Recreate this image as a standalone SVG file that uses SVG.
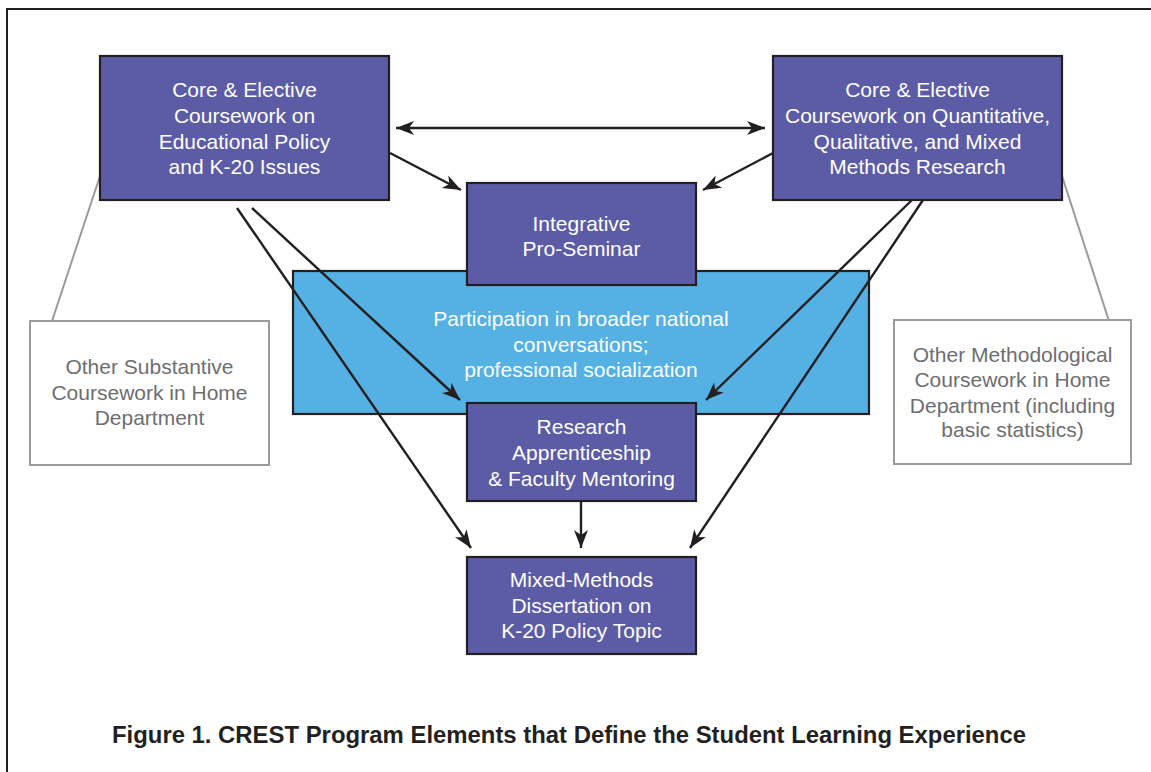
<svg xmlns="http://www.w3.org/2000/svg" width="1151" height="772" viewBox="0 0 1151 772">
<style>
.pb{fill:#5c5ca6;stroke:#231f20;stroke-width:2.2}
.bl{fill:#55b0e3;stroke:#231f20;stroke-width:2.2}
.gb{fill:#ffffff;stroke:#9b9b9d;stroke-width:2}
.wt{font-family:"Liberation Sans",Arial,sans-serif;font-size:21px;fill:#ffffff;text-anchor:middle}
.gt{font-family:"Liberation Sans",Arial,sans-serif;font-size:21px;fill:#6d6e71;text-anchor:middle}
.ar{stroke:#231f20;stroke-width:2.4;fill:none;marker-end:url(#ah)}
.gl{stroke:#9b9b9d;stroke-width:2;fill:none}
.cap{font-family:"Liberation Sans",Arial,sans-serif;font-size:23.5px;font-weight:bold;fill:#231f20;text-anchor:middle}
</style>
<defs>
<marker id="ah" markerUnits="userSpaceOnUse" viewBox="-20 -9 21 18" refX="0" refY="0" markerWidth="21" markerHeight="18" orient="auto-start-reverse">
<path d="M0,0 L-18,-7 L-13,0 L-18,7 Z" fill="#231f20"/>
</marker>
</defs>
<rect x="0" y="0" width="1151" height="772" fill="#ffffff"/>
<rect x="7" y="9" width="1200" height="800" fill="none" stroke="#231f20" stroke-width="2"/>

<g id="socialization">
<rect class="bl" x="293" y="271" width="576" height="143"/>
<text class="wt" x="581" y="326">Participation in broader national</text>
<text class="wt" x="581" y="351.5">conversations;</text>
<text class="wt" x="581" y="377">professional socialization</text>
</g>

<g id="connectors">
<line class="ar" x1="396" y1="128" x2="765" y2="128" style="marker-start:url(#ah)"/>
<line class="ar" x1="390" y1="153" x2="461" y2="190"/>
<line class="ar" x1="773" y1="153" x2="703" y2="190"/>
<line class="ar" x1="252" y1="208" x2="460" y2="400"/>
<line class="ar" x1="237" y1="208" x2="471" y2="548"/>
<line class="ar" x1="912" y1="200" x2="706" y2="400"/>
<line class="ar" x1="923" y1="200" x2="690" y2="548"/>
<line class="ar" x1="581" y1="501" x2="581" y2="548"/>
<line class="gl" x1="100" y1="176" x2="52" y2="321"/>
<line class="gl" x1="1062" y1="176" x2="1109" y2="321"/>
</g>

<g id="policy">
<rect class="pb" x="100" y="56" width="289" height="144"/>
<text class="wt" x="244.5" y="97">Core &amp; Elective</text>
<text class="wt" x="244.5" y="123">Coursework on</text>
<text class="wt" x="244.5" y="149">Educational Policy</text>
<text class="wt" x="244.5" y="174">and K-20 Issues</text>
</g>

<g id="methods">
<rect class="pb" x="773" y="56" width="289" height="144"/>
<text class="wt" x="917.5" y="97">Core &amp; Elective</text>
<text class="wt" x="917.5" y="123">Coursework on Quantitative,</text>
<text class="wt" x="917.5" y="149">Qualitative, and Mixed</text>
<text class="wt" x="917.5" y="174">Methods Research</text>
</g>

<g id="proseminar">
<rect class="pb" x="467" y="183" width="229" height="102"/>
<text class="wt" x="581.5" y="231">Integrative</text>
<text class="wt" x="581.5" y="256">Pro-Seminar</text>
</g>

<g id="apprenticeship">
<rect class="pb" x="467" y="403" width="229" height="98"/>
<text class="wt" x="581.5" y="434">Research</text>
<text class="wt" x="581.5" y="460">Apprenticeship</text>
<text class="wt" x="581.5" y="486">&amp; Faculty Mentoring</text>
</g>

<g id="dissertation">
<rect class="pb" x="467" y="557" width="229" height="97"/>
<text class="wt" x="581.5" y="587">Mixed-Methods</text>
<text class="wt" x="581.5" y="613">Dissertation on</text>
<text class="wt" x="581.5" y="638">K-20 Policy Topic</text>
</g>

<g id="substantive">
<rect class="gb" x="30" y="321" width="239" height="144"/>
<text class="gt" x="149.5" y="374">Other Substantive</text>
<text class="gt" x="149.5" y="400">Coursework in Home</text>
<text class="gt" x="149.5" y="425">Department</text>
</g>

<g id="methodological">
<rect class="gb" x="894" y="320" width="237" height="144"/>
<text class="gt" x="1012.5" y="362">Other Methodological</text>
<text class="gt" x="1012.5" y="387">Coursework in Home</text>
<text class="gt" x="1012.5" y="413">Department (including</text>
<text class="gt" x="1012.5" y="437">basic statistics)</text>
</g>

<g id="caption">
<text class="cap" x="569" y="743" textLength="914" lengthAdjust="spacingAndGlyphs">Figure 1. CREST Program Elements that Define the Student Learning Experience</text>
</g>
</svg>
